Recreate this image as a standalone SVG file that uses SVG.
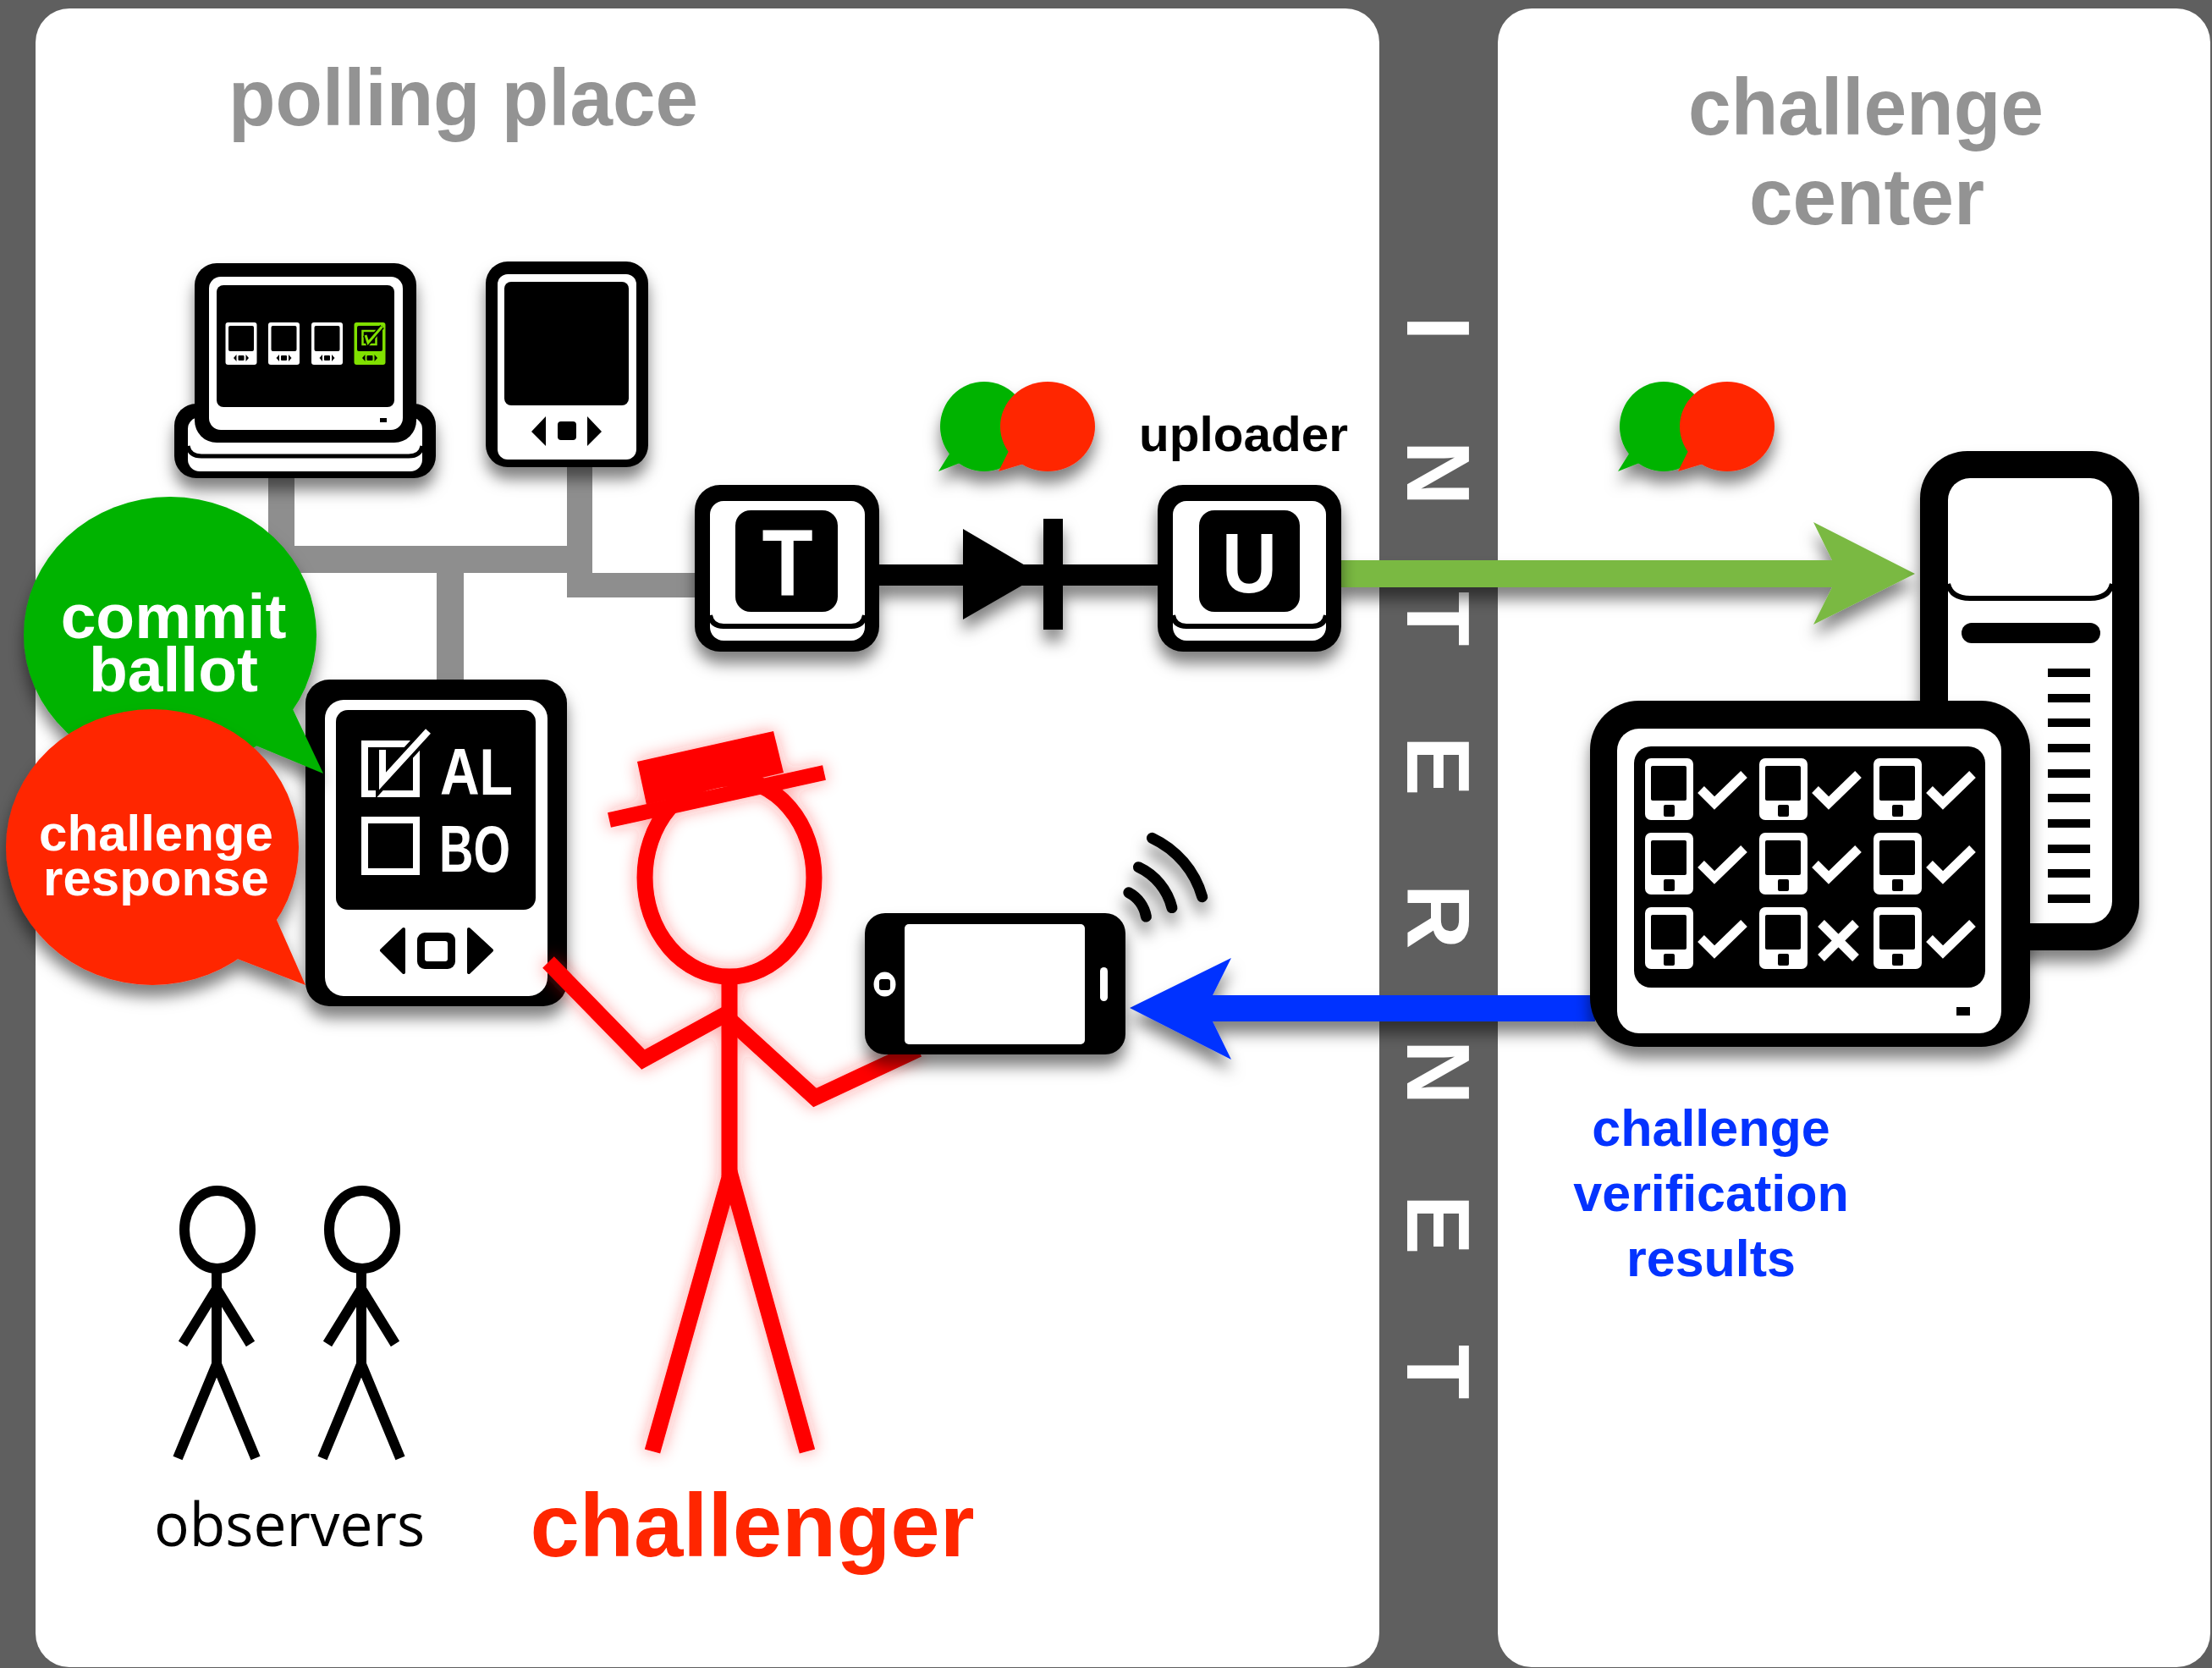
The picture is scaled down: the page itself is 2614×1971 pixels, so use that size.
<svg xmlns="http://www.w3.org/2000/svg" width="2614" height="1971" viewBox="0 0 2614 1971">
<style>
  text { font-family: "Liberation Sans", Arial, Helvetica, sans-serif; font-weight: bold; }
  .title { fill: #939393; font-size: 95px; }
  .inet { fill: #fff; font-size: 106px; text-anchor: middle; }
  .k { fill: #000; }
  .w { fill: #fff; }
  .wire { fill: #8e8e8e; }
  .fig { fill: none; stroke: #ff0000; stroke-width: 19; stroke-linejoin: miter; }
  .obs { fill: none; stroke: #000; stroke-width: 12; }
  .bubtxt { fill: #fff; text-anchor: middle; }
  .blue { fill: #0433ff; font-size: 61px; text-anchor: middle; }
</style>
<defs>
  <filter id="shadow" x="-20%" y="-20%" width="140%" height="170%">
    <feDropShadow dx="0" dy="14" stdDeviation="9" flood-color="#000" flood-opacity="0.5"/>
  </filter>
  <filter id="glow" x="-20%" y="-15%" width="140%" height="130%">
    <feGaussianBlur in="SourceAlpha" stdDeviation="10" result="blur"/>
    <feFlood flood-color="#ff2020" flood-opacity="0.45"/>
    <feComposite in2="blur" operator="in" result="halo"/>
    <feMerge><feMergeNode in="halo"/><feMergeNode in="SourceGraphic"/></feMerge>
  </filter>
  <!-- tiny voting tablet shown on the kiosk screen -->
  <g id="sdev">
    <rect width="37" height="50" rx="3" fill="#fff"/>
    <rect x="3.5" y="4" width="30" height="30" rx="2" fill="#000"/>
    <path d="M13,38 L9.5,42 L13,46Z M24,38 L27.5,42 L24,46Z" fill="#000"/>
    <rect x="15" y="39" width="7" height="6" rx="1" fill="#000"/>
  </g>
  <!-- device tile in the verification grid -->
  <g id="cdev">
    <rect width="57" height="73" rx="7" fill="#fff"/>
    <rect x="7" y="9" width="42" height="41" rx="2" fill="#000"/>
    <rect x="22" y="55" width="13" height="14" rx="2" fill="#000"/>
  </g>
  <path id="tick" d="M66,37 L82,53 L117,19" fill="none" stroke="#fff" stroke-width="11"/>
  <path id="cross" d="M73,19 L114,60 M114,19 L73,60" fill="none" stroke="#fff" stroke-width="11"/>
  <!-- green/red speech bubble pair -->
  <g id="talk">
    <ellipse cx="1163" cy="504" rx="52" ry="53" fill="#00b300"/>
    <path d="M1124,533 L1109,557 L1137,546Z" fill="#00b300"/>
    <ellipse cx="1238" cy="504" rx="56" ry="53" fill="#ff2600"/>
    <path d="M1192,533 L1180,557 L1210,548Z" fill="#ff2600"/>
  </g>
</defs>

<!-- backdrop and the two zones -->
<rect width="2614" height="1971" fill="#5f5f5f"/>
<rect x="42" y="10" width="1588" height="1960" rx="40" fill="#fff"/>
<rect x="1770" y="10" width="842" height="1960" rx="40" fill="#fff"/>

<text class="title" x="270" y="148" textLength="555" lengthAdjust="spacingAndGlyphs">polling place</text>
<text class="title" x="2205" y="159" text-anchor="middle" textLength="420" lengthAdjust="spacingAndGlyphs">challenge</text>
<text class="title" x="2206" y="265" text-anchor="middle" textLength="278" lengthAdjust="spacingAndGlyphs">center</text>

<!-- vertical INTERNET label -->
<g id="internet">
  <text class="inet" transform="translate(1663,388) rotate(90)">I</text>
  <text class="inet" transform="translate(1663,559) rotate(90)">N</text>
  <text class="inet" transform="translate(1663,731) rotate(90)">T</text>
  <text class="inet" transform="translate(1663,905) rotate(90)">E</text>
  <text class="inet" transform="translate(1663,1083) rotate(90)">R</text>
  <text class="inet" transform="translate(1663,1267) rotate(90)">N</text>
  <text class="inet" transform="translate(1663,1447) rotate(90)">E</text>
  <text class="inet" transform="translate(1663,1621) rotate(90)">T</text>
</g>

<!-- connectors -->
<g id="connectors">
  <g id="lan">
    <rect class="wire" x="317" y="555" width="31" height="122"/>
    <rect class="wire" x="317" y="645" width="383" height="32"/>
    <rect class="wire" x="670" y="545" width="30" height="161"/>
    <rect class="wire" x="670" y="677" width="165" height="29"/>
    <rect class="wire" x="516" y="645" width="32" height="162"/>
  </g>
  <g id="t-to-u" filter="url(#shadow)">
    <rect x="1035" y="667" width="337" height="25" fill="#000"/>
    <path d="M1138,625 L1230,679 L1138,732Z" fill="#000"/>
    <rect x="1233" y="613" width="23" height="131" fill="#000"/>
  </g>
  <path id="upload" filter="url(#shadow)" d="M1580,662 H2165 L2143,617 L2263,678 L2143,738 L2165,694 H1580Z" fill="#7ab943"/>
  <path id="results" filter="url(#shadow)" d="M1885,1176 H1433 L1455,1132 L1335,1191 L1455,1252 L1433,1207 H1885Z" fill="#0433ff"/>
</g>

<!-- ballot kiosk with dock -->
<g id="kiosk" filter="url(#shadow)">
  <rect x="206" y="477" width="309" height="88" rx="26" fill="#000"/>
  <rect x="222" y="493" width="277" height="64" rx="14" fill="#fff"/>
  <path d="M222,527 Q224,539 238,539 L483,539 Q497,539 499,527" fill="none" stroke="#000" stroke-width="5"/>
  <rect x="230" y="311" width="262" height="212" rx="26" fill="#000"/>
  <rect x="247" y="327" width="229" height="181" rx="14" fill="#fff"/>
  <rect x="256" y="337" width="210" height="144" rx="8" fill="#000"/>
  <rect x="449" y="494" width="8" height="5" fill="#000"/>
  <use href="#sdev" x="266.5" y="381"/>
  <use href="#sdev" x="317" y="381"/>
  <use href="#sdev" x="368" y="381"/>
  <g transform="translate(418.5,381)">
    <rect width="37" height="50" rx="3" fill="#80e000"/>
    <rect x="3.5" y="4" width="30" height="30" rx="2" fill="#000"/>
    <rect x="10" y="10" width="16" height="16" fill="none" stroke="#80e000" stroke-width="2.5"/>
    <path d="M13.5,15 L16.5,24 L33,5" fill="none" stroke="#000" stroke-width="6"/>
    <path d="M13.5,15 L16.5,24 L33,5" fill="none" stroke="#80e000" stroke-width="3"/>
    <path d="M13,38 L9.5,42 L13,46Z M24,38 L27.5,42 L24,46Z" fill="#000"/>
    <rect x="15" y="39" width="7" height="6" rx="1" fill="#000"/>
  </g>
</g>

<!-- blank tablet -->
<g id="tablet" filter="url(#shadow)">
  <rect x="574" y="309" width="192" height="243" rx="26" fill="#000"/>
  <rect x="588" y="324" width="164" height="219" rx="12" fill="#fff"/>
  <rect x="596" y="333" width="147" height="146" rx="8" fill="#000"/>
  <path d="M645,492 L628,510 L645,527Z M694,492 L711,510 L694,527Z" fill="#000"/>
  <rect x="659" y="498" width="22" height="22" rx="4" fill="#000"/>
</g>

<!-- T and U keys -->
<g id="key-t" filter="url(#shadow)">
  <rect x="821" y="573" width="218" height="197" rx="30" fill="#000"/>
  <rect x="839" y="592" width="183" height="165" rx="16" fill="#fff"/>
  <path d="M839,727 Q841,740 855,740 L1006,740 Q1020,740 1022,727" fill="none" stroke="#000" stroke-width="6"/>
  <rect x="869" y="603" width="121" height="120" rx="18" fill="#000"/>
  <text transform="translate(930.5,703) scale(0.88,1)" text-anchor="middle" font-size="112" fill="#fff">T</text>
</g>
<g id="key-u" filter="url(#shadow)">
  <rect x="1368" y="573" width="217" height="197" rx="30" fill="#000"/>
  <rect x="1386" y="592" width="181" height="165" rx="16" fill="#fff"/>
  <path d="M1386,727 Q1388,740 1402,740 L1551,740 Q1565,740 1567,727" fill="none" stroke="#000" stroke-width="6"/>
  <rect x="1417" y="603" width="119" height="120" rx="18" fill="#000"/>
  <text transform="translate(1476.5,700) scale(0.9,1)" text-anchor="middle" font-size="100" fill="#fff">U</text>
</g>
<text x="1346" y="533" font-size="58" fill="#000" textLength="247" lengthAdjust="spacingAndGlyphs">uploader</text>
<use id="talk-poll" href="#talk" filter="url(#shadow)"/>

<!-- voting tablet with ballot -->
<g id="voter" filter="url(#shadow)">
  <rect x="361" y="803" width="309" height="386" rx="28" fill="#000"/>
  <rect x="384" y="827" width="263" height="350" rx="22" fill="#fff"/>
  <rect x="397" y="839" width="236" height="236" rx="14" fill="#000"/>
  <rect x="431" y="879" width="61" height="59" fill="none" stroke="#fff" stroke-width="8"/>
  <polyline points="452,886 452,923 506,864" fill="none" stroke="#000" stroke-width="16"/>
  <polyline points="452,886 452,923 506,864" fill="none" stroke="#fff" stroke-width="8"/>
  <rect x="431" y="969" width="61" height="61" fill="none" stroke="#fff" stroke-width="8"/>
  <text x="520" y="939" font-size="77" fill="#fff" textLength="86" lengthAdjust="spacingAndGlyphs">AL</text>
  <text x="519" y="1030" font-size="77" fill="#fff" textLength="84" lengthAdjust="spacingAndGlyphs">BO</text>
  <path d="M477,1098 L451,1123 L477,1149Z M554,1098 L581,1123 L554,1149Z" fill="#000" stroke="#000" stroke-width="4" stroke-linejoin="round"/>
  <rect x="493" y="1102" width="45" height="43" rx="9" fill="#000"/>
  <rect x="502" y="1112" width="27" height="24" rx="3" fill="#fff"/>
</g>

<!-- speech bubbles -->
<g id="commit-ballot" filter="url(#shadow)">
  <ellipse cx="201" cy="750" rx="173" ry="163" fill="#00b300"/>
  <path d="M300,880 L382,914 L345,836Z" fill="#00b300"/>
  <text class="bubtxt" x="205" y="754" font-size="75">commit</text>
  <text class="bubtxt" x="205" y="817" font-size="75">ballot</text>
</g>
<g id="challenge-response" filter="url(#shadow)">
  <ellipse cx="180" cy="1001" rx="173" ry="163" fill="#ff2600"/>
  <path d="M278,1132 L361,1164 L326,1085Z" fill="#ff2600"/>
  <text class="bubtxt" x="184.5" y="1005" font-size="60">challenge</text>
  <text class="bubtxt" x="184.5" y="1058" font-size="60">response</text>
</g>

<!-- challenger stick figure -->
<g id="challenger" filter="url(#glow)">
  <ellipse class="fig" cx="862" cy="1037" rx="100" ry="117"/>
  <path d="M720,969 L974,913" stroke="#ff0000" stroke-width="18"/>
  <path d="M753,900 L914,864 L926,913 L764,951Z" fill="#ff0000"/>
  <path class="fig" d="M862,1150 V1390"/>
  <path class="fig" d="M771,1715 L863,1388 L954,1715"/>
  <path class="fig" d="M648,1137 L760,1252 L862,1196"/>
  <path class="fig" d="M860,1203 L963,1297 L1085,1240" stroke="#ff2600"/>
</g>
<text x="889" y="1839" text-anchor="middle" font-size="105" fill="#ff2600">challenger</text>

<!-- challenger's phone -->
<g id="phone" filter="url(#shadow)">
  <rect x="1022" y="1079" width="308" height="167" rx="24" fill="#000"/>
  <rect x="1069" y="1092" width="213" height="142" rx="5" fill="#fff"/>
  <ellipse cx="1045.5" cy="1163" rx="13" ry="14.5" fill="#fff"/>
  <rect x="1039" y="1157" width="13" height="13" rx="3" fill="#000"/>
  <rect x="1300" y="1143" width="9" height="40" rx="4.5" fill="#fff"/>
  <g fill="none" stroke="#000" stroke-width="13" stroke-linecap="round">
    <path d="M1333.8,1054.7 A40,40 0 0 1 1354.4,1083.1"/>
    <path d="M1345.4,1024.7 A72,72 0 0 1 1384.9,1072.6"/>
    <path d="M1361.5,990.3 A110,110 0 0 1 1420.7,1059.7"/>
  </g>
</g>

<!-- observers -->
<g id="observers">
  <g class="obs">
    <ellipse cx="257" cy="1453" rx="39" ry="46"/>
    <path d="M256,1499 V1612 M216,1588 L256,1523 L296,1588 M210,1723 L256,1612 L302,1723"/>
  </g>
  <g class="obs" transform="translate(171,0)">
    <ellipse cx="257" cy="1453" rx="39" ry="46"/>
    <path d="M256,1499 V1612 M216,1588 L256,1523 L296,1588 M210,1723 L256,1612 L302,1723"/>
  </g>
  <text x="342" y="1827" text-anchor="middle" font-family="'Open Sans', 'Noto Sans', sans-serif" font-weight="normal" font-size="72" fill="#000" textLength="320" lengthAdjust="spacingAndGlyphs" style="font-family:'Open Sans','Noto Sans',sans-serif;font-weight:normal">observers</text>
</g>

<!-- challenge center: server -->
<use id="talk-center" href="#talk" x="803" y="0" filter="url(#shadow)"/>
<g id="server" filter="url(#shadow)">
  <rect x="2269" y="533" width="259" height="590" rx="56" fill="#000"/>
  <rect x="2302" y="565" width="194" height="526" rx="26" fill="#fff"/>
  <path d="M2302,690 Q2306,707 2328,707 L2470,707 Q2492,707 2496,690" fill="none" stroke="#000" stroke-width="6"/>
  <rect x="2318" y="736" width="164" height="24" rx="12" fill="#000"/>
  <g fill="#000">
    <rect x="2420" y="790" width="50" height="10"/>
    <rect x="2420" y="820" width="50" height="10"/>
    <rect x="2420" y="849" width="50" height="10"/>
    <rect x="2420" y="879" width="50" height="10"/>
    <rect x="2420" y="909" width="50" height="10"/>
    <rect x="2420" y="938" width="50" height="10"/>
    <rect x="2420" y="968" width="50" height="10"/>
    <rect x="2420" y="998" width="50" height="10"/>
    <rect x="2420" y="1027" width="50" height="10"/>
    <rect x="2420" y="1057" width="50" height="10"/>
  </g>
</g>

<!-- challenge center: verification monitor -->
<g id="verifier" filter="url(#shadow)">
  <rect x="1879" y="828" width="520" height="409" rx="58" fill="#000"/>
  <rect x="1911" y="861" width="454" height="360" rx="26" fill="#fff"/>
  <rect x="1931" y="882" width="415" height="285" rx="20" fill="#000"/>
  <rect x="2312" y="1190" width="16" height="10" fill="#000"/>
  <g transform="translate(1944,896)"><use href="#cdev"/><use href="#tick"/></g>
  <g transform="translate(2079,896)"><use href="#cdev"/><use href="#tick"/></g>
  <g transform="translate(2214,896)"><use href="#cdev"/><use href="#tick"/></g>
  <g transform="translate(1944,984)"><use href="#cdev"/><use href="#tick"/></g>
  <g transform="translate(2079,984)"><use href="#cdev"/><use href="#tick"/></g>
  <g transform="translate(2214,984)"><use href="#cdev"/><use href="#tick"/></g>
  <g transform="translate(1944,1072)"><use href="#cdev"/><use href="#tick"/></g>
  <g transform="translate(2079,1072)"><use href="#cdev"/><use href="#cross"/></g>
  <g transform="translate(2214,1072)"><use href="#cdev"/><use href="#tick"/></g>
</g>

<g id="results-label">
  <text class="blue" x="2022" y="1354">challenge</text>
  <text class="blue" x="2022" y="1431">verification</text>
  <text class="blue" x="2022" y="1508">results</text>
</g>
</svg>
